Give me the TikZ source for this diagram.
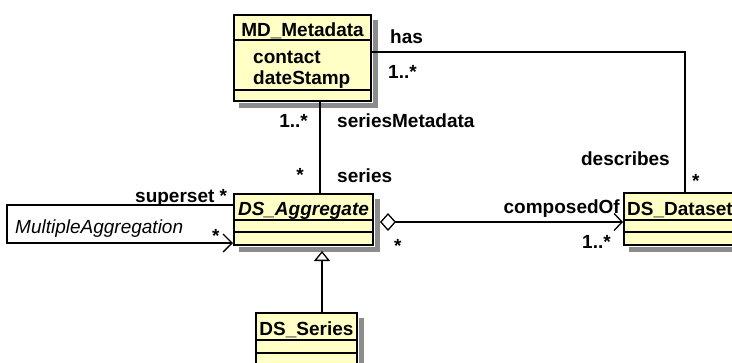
\documentclass[tikz,border=0pt]{standalone}
\usepackage{fontspec}
\setmainfont{Liberation Sans}
\usetikzlibrary{arrows.meta}
\definecolor{classfill}{HTML}{FFFFC6}
\newcommand{\umlfont}{\fontsize{19}{22}\selectfont}

\begin{document}
\begin{tikzpicture}[
  x=1pt,
  y=-1pt,
  font=\umlfont\bfseries,
  line/.style={draw=black,line width=1.3pt},
  classbox/.style={draw=black,line width=2pt,fill=classfill,anchor=north west,inner sep=0pt},
  boxshadow/.style={fill=black!45},
  compart/.style={draw=black,line width=2pt},
  tag/.style={inner sep=0pt,anchor=base west},
  barb/.style={-{Straight Barb[length=9pt,width=18pt]}}
]
\useasboundingbox (0,0) rectangle (732,362);

% Classes
\node[classbox,minimum width=137,minimum height=86] (meta) at (233,14) {};
\node[tag,anchor=base] (metaName) at (meta.center |- 0,36) {MD\_Metadata};
\node[tag] (metaContact) at (253,63) {contact};
\node[tag] (metaDate) at (253,84) {dateStamp};
\draw[compart] (meta.west |- 0,40) -- (meta.east |- 0,40);
\draw[compart] (meta.west |- 0,90) -- (meta.east |- 0,90);

\node[classbox,minimum width=139,minimum height=51] (aggr) at (233,193) {};
\node[tag,anchor=base,font=\umlfont\bfseries\itshape] (aggrName) at (aggr.center |- 0,215) {DS\_Aggregate};
\draw[compart] (aggr.west |- 0,220) -- (aggr.east |- 0,220);
\draw[compart] (aggr.west |- 0,232) -- (aggr.east |- 0,232);

\node[classbox,minimum width=125,minimum height=52] (dataset) at (623,192) {};
\node[tag] (datasetName) at (627,215) {DS\_Dataset};
\draw[compart] (dataset.west |- 0,220) -- (dataset.east |- 0,220);
\draw[compart] (dataset.west |- 0,232) -- (dataset.east |- 0,232);

\node[classbox,minimum width=101,minimum height=60] (series) at (255,312) {};
\node[tag,anchor=base] (seriesName) at (series.center |- 0,335) {DS\_Series};
\draw[compart] (series.west |- 0,340) -- (series.east |- 0,340);
\draw[compart] (series.west |- 0,353) -- (series.east |- 0,353);

% Shadows: strips along right and bottom edges
\foreach \cls in {meta,aggr,dataset,series}{
  \fill[boxshadow] ([shift={(1,6)}]\cls.north east) rectangle ([shift={(6,6)}]\cls.south east);
  \fill[boxshadow] ([shift={(6,1)}]\cls.south west) rectangle ([shift={(6,6)}]\cls.south east);
}

% Associations
\coordinate (aggrRim) at ([xshift=6pt]aggr.east);
\coordinate (aggrBase) at ([yshift=-5pt]aggr.south);

\draw[line] (meta.east |- 0,52) -| (dataset.north -| 685,0);
\draw[line] (meta.south -| 320,0) -- (aggr.north -| 320,0);
\draw[line,barb] (aggr.west |- 0,205) -- (7,205) -- (7,243) -- (aggr.west |- 0,243);
\draw[line,{Diamond[open,fill=white,length=16pt,width=18pt]}-{Straight Barb[length=8pt,width=17pt]}]
  (aggrRim |- 0,222) -- (dataset.west |- 0,222);
\draw[line,-{Triangle[open,fill=white,length=10pt,width=16pt]}] (series.north -| 322,0) -- (aggrBase -| 322,0);

% Role names and multiplicities
\node[tag] (hasName) at (390,43) {has};
\node[tag] (hasMult) at (388,78) {1..*};
\node[tag,anchor=base east] (describesName) at (670,165) {describes};
\node[tag] (describesMult) at (692,187) {*};

\node[tag,anchor=base east] (metaMult) at (308,127) {1..*};
\node[tag] (metaRole) at (337,127) {seriesMetadata};
\node[tag,anchor=base east] (seriesMult) at (304,181) {*};
\node[tag] (seriesRole) at (337,182) {series};

\node[tag] (supersetRole) at (135,202) {superset *};
\node[tag,font=\umlfont\mdseries\itshape] (loopName) at (15,233) {MultipleAggregation};
\node[tag] (subsetMult) at (212,242) {*};

\node[tag] (wholeMult) at (394,252) {*};
\node[tag,anchor=base east] (composedRole) at (620,213) {composedOf};
\node[tag] (partMult) at (582,248) {1..*};

\end{tikzpicture}
\end{document}
